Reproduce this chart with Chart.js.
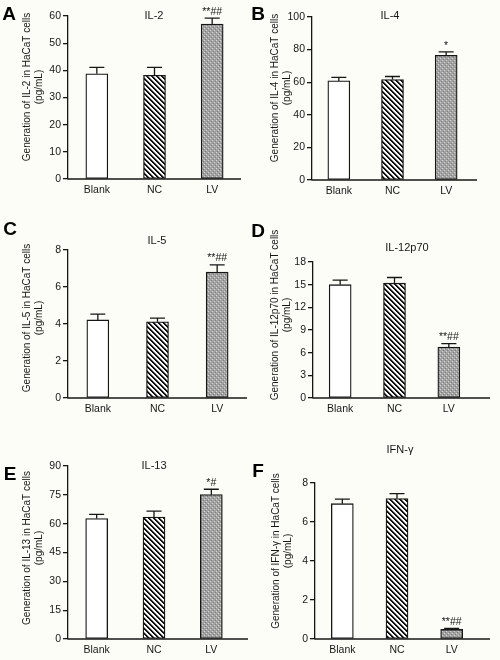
<!DOCTYPE html>
<html><head><meta charset="utf-8">
<script src="https://cdn.jsdelivr.net/npm/chart.js@4.4.1/dist/chart.umd.min.js"></script>
<style>
html,body{margin:0;padding:0;background:#fdfdf8;}
#wrap{position:relative;width:500px;height:660px;overflow:hidden;background:#fdfdf8;}
canvas{position:absolute;}
</style></head><body><div id="wrap"></div>
<script>
// ---------- data ----------
const categories = ['Blank', 'NC', 'LV'];
const panelLetters = ['A', 'B', 'C', 'D', 'E', 'F'];
const panelTitles = ['IL-2', 'IL-4', 'IL-5', 'IL-12p70', 'IL-13', 'IFN-γ'];
const yTitleLines = [
  'Generation of IL-2 in HaCaT cells',
  'Generation of IL-4 in HaCaT cells',
  'Generation of IL-5 in HaCaT cells',
  'Generation of IL-12p70 in HaCaT cells',
  'Generation of IL-13 in HaCaT cells',
  'Generation of IFN-γ in HaCaT cells'
];
const yUnit = '(pg/mL)';

const il2Values = [38.7, 38.2, 57.0];
const il2Errors = [2.4, 2.9, 2.2];
const il2Marks = ['', '', '**##'];

const il4Values = [60.8, 61.6, 76.5];
const il4Errors = [2.1, 1.9, 2.1];
const il4Marks = ['', '', '*'];

const il5Values = [4.22, 4.12, 6.8];
const il5Errors = [0.31, 0.2, 0.4];
const il5Marks = ['', '', '**##'];

const il12Values = [15.0, 15.2, 6.75];
const il12Errors = [0.6, 0.75, 0.45];
const il12Marks = ['', '', '**##'];

const il13Values = [62.7, 63.4, 75.1];
const il13Errors = [2.1, 3.1, 2.8];
const il13Marks = ['', '', '*#'];

const ifnValues = [6.94, 7.2, 0.49];
const ifnErrors = [0.23, 0.26, 0.05];
const ifnMarks = ['', '', '**##'];

const yMaxima = [60, 100, 8, 18, 90, 8];
const yTickSteps = [10, 20, 2, 3, 15, 2];

// ---------- layout / style (not data) ----------
const FONT = '"Liberation Sans", Arial, sans-serif';
const INK = '#161616';
const layouts = [
  {left:0,   top:0,   w:250, h:210, pad:{left:38, right:9,  top:16, bottom:13}, xEnd:241, letter:[9,15],  title:[154,16], yt:[27,39,87]},
  {left:250, top:0,   w:250, h:210, pad:{left:32, right:27, top:17, bottom:12}, xEnd:227, letter:[8,15],  title:[140,16], yt:[25,37,88]},
  {left:0,   top:215, w:250, h:220, pad:{left:38, right:3,  top:35, bottom:19}, xEnd:247, letter:[10,15], title:[157,26], yt:[27,39,103]},
  {left:250, top:215, w:250, h:220, pad:{left:33, right:24, top:47, bottom:19}, xEnd:240, letter:[8,17],  title:[157,33], yt:[25,37,100]},
  {left:0,   top:435, w:250, h:225, pad:{left:38, right:10, top:31, bottom:3},  xEnd:248, letter:[10,40], title:[154,31], yt:[27,39,113]},
  {left:250, top:435, w:250, h:225, pad:{left:35, right:21, top:48, bottom:3},  xEnd:240, letter:[8,37],  title:[150,15], yt:[26,38,116]}
];

function makeStripe() {
  const c = document.createElement('canvas'); c.width = c.height = 5;
  const g = c.getContext('2d');
  g.fillStyle = '#ffffff'; g.fillRect(0, 0, 5, 5);
  for (let y = 0; y < 5; y++) for (let x = 0; x < 5; x++) {
    const d = ((x - y) % 5 + 5) % 5;
    if (d < 2) { g.fillStyle = '#111'; g.fillRect(x, y, 1, 1); }
    else if (d === 2) { g.fillStyle = '#9a9a9a'; g.fillRect(x, y, 1, 1); }
  }
  return c;
}
function makeDots() {
  const c = document.createElement('canvas'); c.width = c.height = 4;
  const g = c.getContext('2d');
  g.fillStyle = '#a2a2a2'; g.fillRect(0, 0, 4, 4);
  g.fillStyle = '#d6d6d6'; g.fillRect(0, 0, 1, 1); g.fillRect(2, 2, 1, 1);
  g.fillStyle = '#7c7c7c'; g.fillRect(1, 3, 1, 1); g.fillRect(3, 1, 1, 1);
  return c;
}

const decor = {
  id: 'decor',
  afterDatasetsDraw(chart, args, opts) {
    const ctx = chart.ctx;
    const area = chart.chartArea;
    const ys = chart.scales.y;
    const meta = chart.getDatasetMeta(0);
    const ds = chart.data.datasets[0];
    ctx.save();
    // x axis line
    ctx.strokeStyle = INK; ctx.lineWidth = 1.3;
    ctx.beginPath(); ctx.moveTo(area.left - 0.6, area.bottom); ctx.lineTo(opts.xEnd, area.bottom); ctx.stroke();
    // error bars + marks
    meta.data.forEach((bar, i) => {
      const yTop = ys.getPixelForValue(ds.data[i] + opts.errors[i]);
      ctx.beginPath();
      ctx.moveTo(bar.x, bar.y); ctx.lineTo(bar.x, yTop);
      ctx.moveTo(bar.x - 7.5, yTop); ctx.lineTo(bar.x + 7.5, yTop);
      ctx.stroke();
      if (opts.marks[i]) {
        ctx.fillStyle = INK; ctx.font = '10.5px ' + FONT;
        ctx.textAlign = 'center'; ctx.textBaseline = 'bottom';
        ctx.fillText(opts.marks[i], bar.x, yTop - 1);
      }
    });
    ctx.restore();
  },
  afterDraw(chart, args, opts) {
    const ctx = chart.ctx;
    const L = opts.layout;
    ctx.save();
    ctx.fillStyle = '#000';
    ctx.font = 'bold 19px ' + FONT;
    ctx.textAlign = 'center'; ctx.textBaseline = 'middle';
    ctx.fillText(opts.letter, L.letter[0], L.letter[1]);
    ctx.fillStyle = INK;
    ctx.font = '11px ' + FONT;
    ctx.fillText(opts.title, L.title[0], L.title[1]);
    ctx.font = '10px ' + FONT;
    ctx.save();
    ctx.translate(L.yt[0], L.yt[2]); ctx.rotate(-Math.PI / 2);
    ctx.fillText(opts.ytitle, 0, 0);
    ctx.restore();
    ctx.save();
    ctx.translate(L.yt[1], L.yt[2]); ctx.rotate(-Math.PI / 2);
    ctx.fillText(yUnit, 0, 0);
    ctx.restore();
    ctx.restore();
  }
};

const panels = [
  [il2Values, il2Errors, il2Marks],
  [il4Values, il4Errors, il4Marks],
  [il5Values, il5Errors, il5Marks],
  [il12Values, il12Errors, il12Marks],
  [il13Values, il13Errors, il13Marks],
  [ifnValues, ifnErrors, ifnMarks]
];

const wrap = document.getElementById('wrap');
panels.forEach((p, k) => {
  const L = layouts[k];
  const cv = document.createElement('canvas');
  cv.width = L.w; cv.height = L.h;
  cv.style.left = L.left + 'px'; cv.style.top = L.top + 'px';
  cv.style.width = L.w + 'px'; cv.style.height = L.h + 'px';
  wrap.appendChild(cv);
  const g = cv.getContext('2d');
  const fills = ['#ffffff', g.createPattern(makeStripe(), 'repeat'), g.createPattern(makeDots(), 'repeat')];
  new Chart(cv, {
    type: 'bar',
    data: {
      labels: categories,
      datasets: [{
        data: p[0],
        backgroundColor: fills,
        borderColor: INK,
        borderWidth: 1.3,
        borderSkipped: false,
        barThickness: 22
      }]
    },
    options: {
      responsive: false,
      animation: false,
      events: [],
      devicePixelRatio: 1,
      layout: { padding: L.pad },
      plugins: {
        legend: { display: false },
        tooltip: { enabled: false },
        decor: { errors: p[1], marks: p[2], xEnd: L.xEnd, letter: panelLetters[k], title: panelTitles[k], ytitle: yTitleLines[k], layout: L }
      },
      scales: {
        x: {
          grid: { display: false, drawTicks: false },
          border: { display: false },
          ticks: { color: INK, font: { family: FONT, size: 10.5 }, padding: 5 },
          afterFit: s => { s.height = 18; }
        },
        y: {
          min: 0, max: yMaxima[k],
          grid: { drawOnChartArea: false, drawTicks: true, tickLength: 5, color: INK, lineWidth: 1.3 },
          border: { display: true, color: INK, width: 1.3 },
          ticks: { stepSize: yTickSteps[k], color: INK, font: { family: FONT, size: 10.5 }, padding: 2 },
          afterFit: s => { s.width = 30; }
        }
      }
    },
    plugins: [decor]
  });
});
</script>
</body></html>
